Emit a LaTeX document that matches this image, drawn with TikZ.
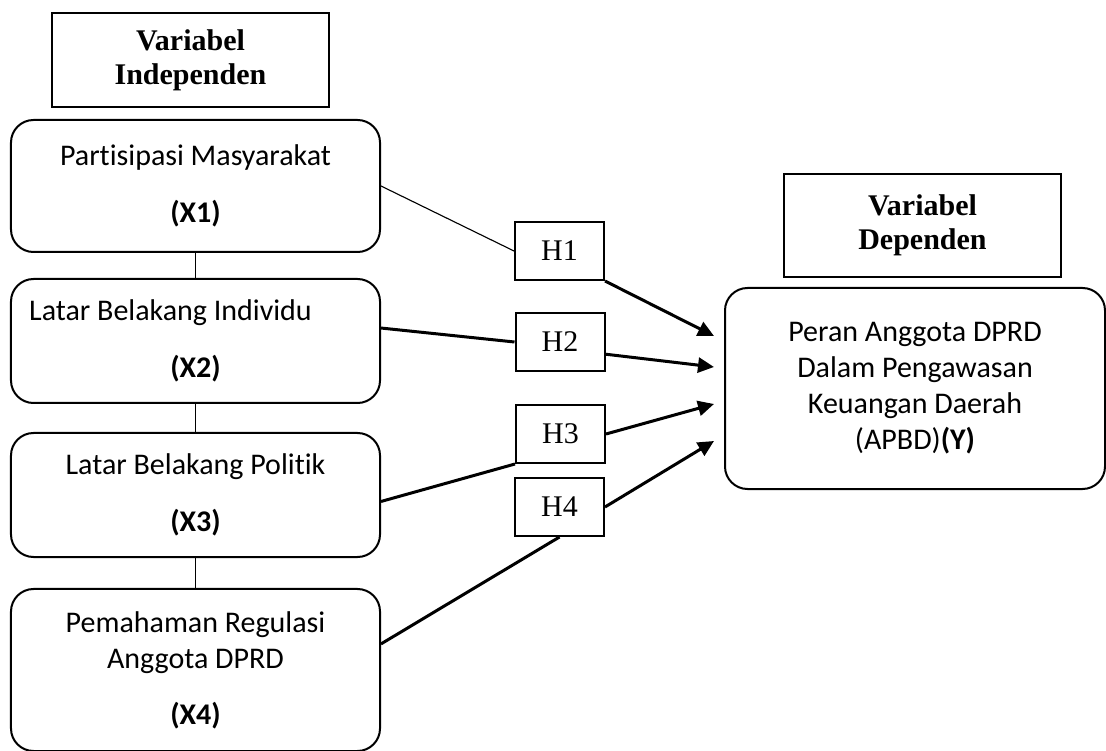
\documentclass[tikz,border=0pt]{standalone}
\usepackage{fontspec}
\setmainfont{Carlito}[Ligatures=NoCommon]
\newfontfamily\timesfont{Liberation Serif}
\usetikzlibrary{arrows.meta}

\begin{document}
\begin{tikzpicture}[x=0.4pt,y=0.4pt,
  varbox/.style={draw,rounded corners=9pt,line width=0.8pt,minimum width=147.6pt,align=center,inner sep=0pt,font=\fontsize{12}{14.4}\selectfont},
  titlebox/.style={draw,line width=0.8pt,minimum width=110.8pt,align=center,inner sep=0pt,font=\timesfont\bfseries\fontsize{12}{13.6}\selectfont},
  hbox/.style={draw,line width=0.8pt,minimum width=35.6pt,minimum height=23.2pt,inner sep=0pt,font=\timesfont\fontsize{12}{14}\selectfont},
  weakline/.style={line width=0.45pt},
  hypline/.style={line width=1.2pt},
  hyparrow/.style={hypline,-{Triangle[length=6.4pt,width=6pt]}}]
\useasboundingbox (0,0) rectangle (1106,-751);
% titles
\node [titlebox,minimum height=37.6pt] (indep) at (190.5,-60) {Variabel\\Independen};
\node [titlebox,minimum height=41.2pt] (dep) at (922.5,-225.5) {Variabel\\Dependen};
% independent variables
\node [varbox,minimum height=52.8pt] (x1) at (195.5,-186) {Partisipasi Masyarakat\\[8.4pt]\textbf{(X1)}};
\node [varbox,minimum height=49.6pt] (x2) at (195.5,-341) {Latar Belakang Individu\hspace*{20pt}\\[8.4pt]\textbf{(X2)}};
\node [varbox,minimum height=49.6pt] (x3) at (195.5,-495) {Latar Belakang Politik\\[8.4pt]\textbf{(X3)}};
\node [varbox,minimum height=64.8pt] (x4) at (195.5,-670) {Pemahaman Regulasi\\Anggota DPRD\\[8pt]\textbf{(X4)}};
% dependent variable
\node [varbox,minimum width=152pt,minimum height=80.4pt] (y) at (915,-388.5) {\raisebox{2pt}{\begin{tabular}{@{}c@{}}Peran Anggota DPRD\\Dalam Pengawasan\\Keuangan Daerah\\(APBD)\textbf{(Y)}\end{tabular}}};
% hypotheses
\node [hbox] (h1) at (559.5,-251) {H1};
\node [hbox] (h2) at (560,-342) {H2};
\node [hbox] (h3) at (560.5,-434) {H3};
\node [hbox] (h4) at (559.5,-507) {H4};
\coordinate (t1) at (714,-336);
\coordinate (t2) at (714,-367);
\coordinate (t3) at (714,-404);
\coordinate (t4) at (714,-441);
% links
\draw [weakline] (x1.south) -- (x2.north);
\draw [weakline] (x2.south) -- (x3.north);
\draw [weakline] (x3.south) -- (x4.north);
\draw [weakline] (x1.east) -- (h1.west);
\draw [hypline] (x2.4) -- (h2.west);
\draw [hypline] (x3.-2.5) -- (h3.south west);
\draw [hypline] (x4.8) -- (h4.south);
\draw [hyparrow] (h1.south east) -- (t1);
\draw [hyparrow] (h2.-15) -- (t2);
\draw [hyparrow] (h3.east) -- (t3);
\draw [hyparrow] (h4.east) -- (t4);
\end{tikzpicture}
\end{document}
